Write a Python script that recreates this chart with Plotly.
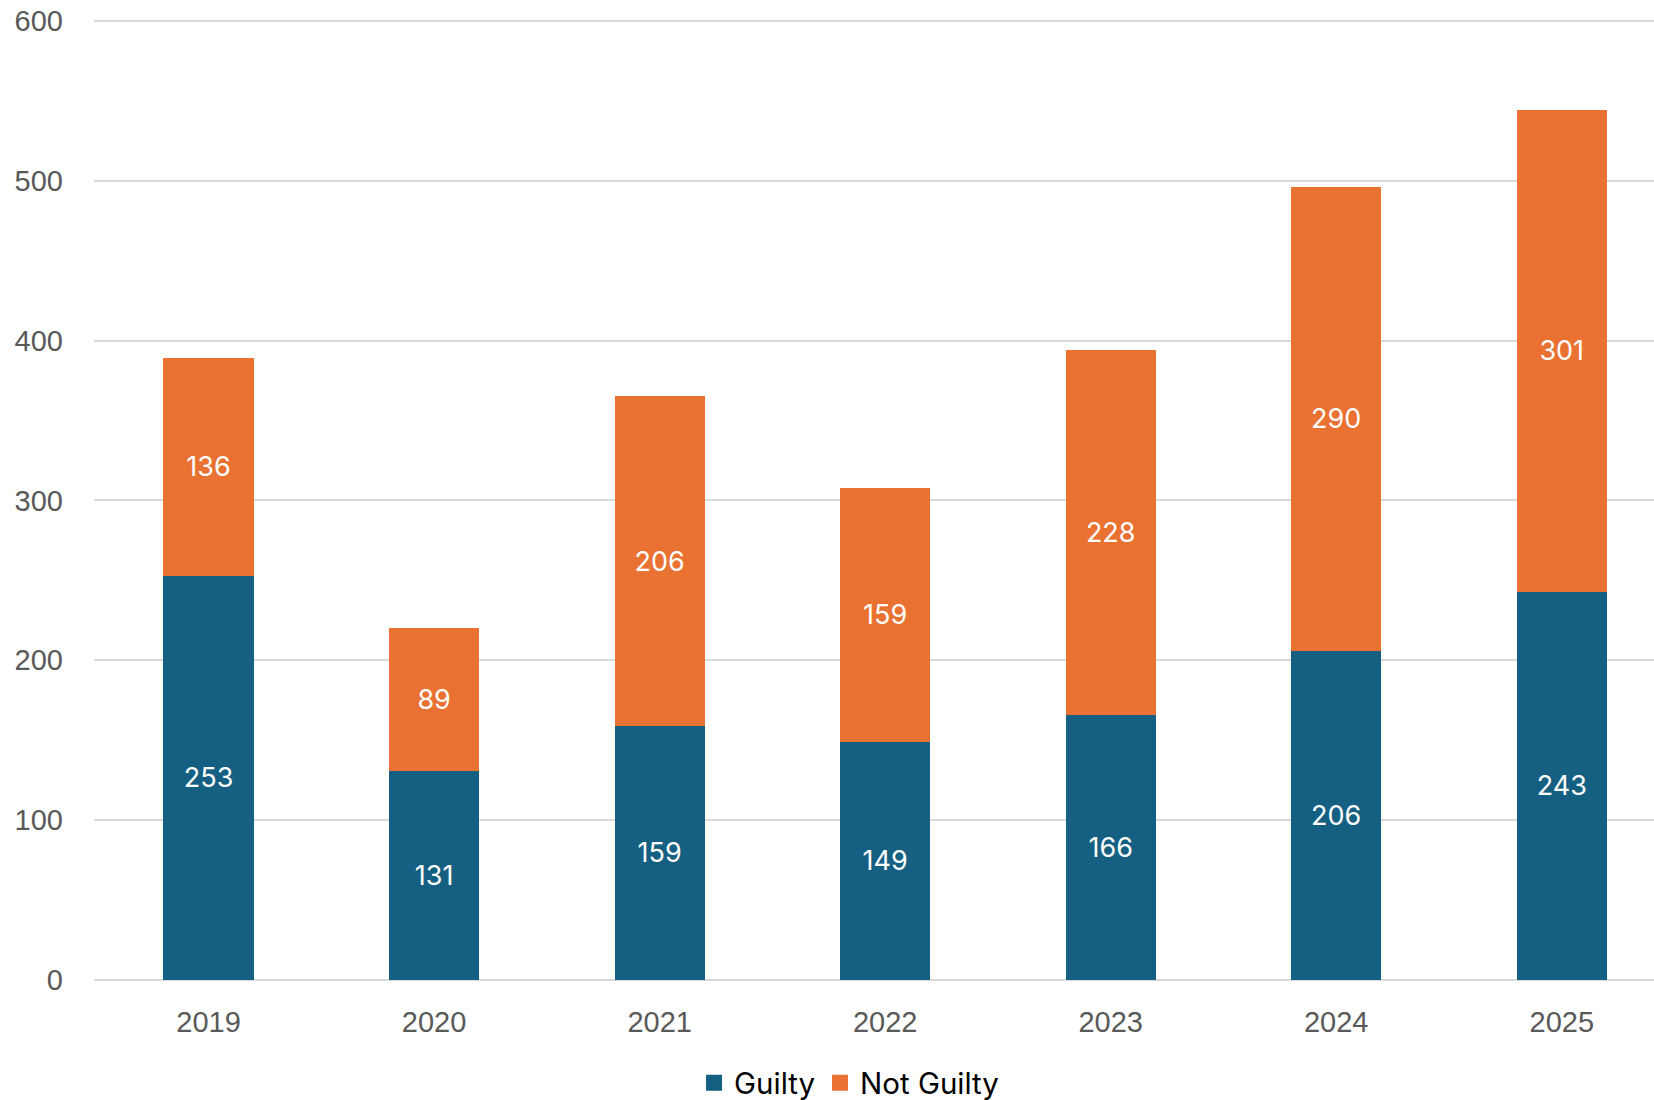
import plotly.graph_objects as go

years = ["2019", "2020", "2021", "2022", "2023", "2024", "2025"]
guilty = [253, 131, 159, 149, 166, 206, 243]
not_guilty = [136, 89, 206, 159, 228, 290, 301]
y_ticks = [0, 100, 200, 300, 400, 500, 600]

GUILTY_COLOR = "#156082"
NOT_GUILTY_COLOR = "#E97132"
label_font = dict(family="Inter, Open Sans, sans-serif", size=27, color="white")

fig = go.Figure()
fig.add_trace(go.Bar(
    x=years, y=guilty, name="Guilty", marker=dict(color=GUILTY_COLOR, line=dict(width=0)),
    text=[str(v) for v in guilty], textposition="inside", insidetextanchor="middle",
    textfont=label_font, textangle=0, showlegend=False,
))
fig.add_trace(go.Bar(
    x=years, y=not_guilty, name="Not Guilty", marker=dict(color=NOT_GUILTY_COLOR, line=dict(width=0)),
    text=[str(v) for v in not_guilty], textposition="inside", insidetextanchor="middle",
    textfont=label_font, textangle=0, showlegend=False,
))
# legend entries with larger square swatches
for nm, col in [("Guilty", GUILTY_COLOR), ("Not Guilty", NOT_GUILTY_COLOR)]:
    fig.add_trace(go.Scatter(
        x=[None], y=[None], mode="markers", name=nm,
        marker=dict(symbol="square", size=21, color=col), showlegend=True,
    ))

fig.update_layout(
    barmode="stack",
    bargap=0.6,
    width=1654, height=1100,
    margin=dict(l=94, r=0, t=16, b=120, autoexpand=False),
    paper_bgcolor="white", plot_bgcolor="white",
    showlegend=True,
    legend=dict(
        orientation="h", x=0.484, xanchor="center", y=-0.107, yanchor="middle",
        font=dict(family="Inter, Open Sans, sans-serif", size=29.5, color="#000000"),
        itemwidth=30, traceorder="normal", itemclick=False,
    ),
    xaxis=dict(
        type="category", range=[-0.508, 6.409], automargin=False,
        showgrid=False, showline=False, zeroline=False, ticks="",
        tickfont=dict(family="Liberation Sans, Arial, sans-serif", size=29, color="#595959"),
        ticklabelstandoff=22,
    ),
    yaxis=dict(
        range=[0, 603], tickvals=y_ticks, automargin=False,
        showgrid=True, gridcolor="#D9D9D9", gridwidth=1.5,
        zeroline=True, zerolinecolor="#D9D9D9", zerolinewidth=1.5,
        showline=False, ticks="",
        tickfont=dict(family="Liberation Sans, Arial, sans-serif", size=29, color="#595959"),
        ticklabelstandoff=30,
    ),
)

fig.write_html(
    "out.html",
    config={"displayModeBar": False},
    post_script="document.body.style.margin='0';document.body.style.overflow='hidden';",
)
